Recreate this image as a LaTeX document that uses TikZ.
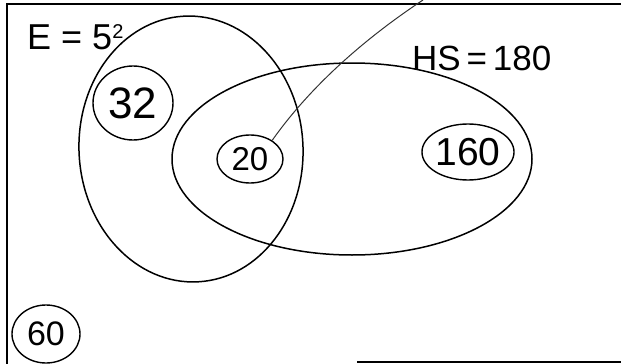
\documentclass[tikz,border=0pt]{standalone}
\usepackage{fontspec}
\setmainfont{Liberation Sans}
\usetikzlibrary{shapes.geometric}
\begin{document}
\begin{tikzpicture}[x=1pt,y=-1pt,
  setring/.style={draw, ellipse, line width=1.5pt, inner sep=0pt},
  countring/.style={draw, ellipse, line width=1.4pt, inner sep=0pt},
  frameline/.style={line width=1.3pt},
  pointer/.style={line width=1pt, draw=black!80},
  lbl/.style={inner sep=0pt}]
\useasboundingbox (0,0) rectangle (621,364);
% frame
\draw[frameline] (7,364) -- (7,4) -- (621,4);
\draw[frameline] (357,362) -- (621,362);
% sets
\node[setring, minimum width=224pt, minimum height=266pt, rotate=3] (E) at (191,149) {};
\node[setring, minimum width=360pt, minimum height=192pt] (HS) at (352,159) {};
% set labels
\node[lbl, anchor=base west] (tE) at (27,49) {\fontsize{36}{36}\selectfont E = 5\raisebox{0.3em}{\fontsize{20}{20}\selectfont 2}};
\node[lbl, anchor=base west] (tHS) at (412,70) {\fontsize{35}{35}\selectfont HS\,=\,180};
% counts
\node[countring, minimum width=80pt, minimum height=74pt] (c32) at (133,103) {\fontsize{44}{44}\selectfont 32};
\node[countring, minimum width=66pt, minimum height=48pt] (c20) at (250,159) {\fontsize{33}{33}\selectfont 20};
\node[countring, minimum width=86pt, minimum height=56pt] (c160) at (468,152) {\fontsize{39}{39}\selectfont 160};
\node[countring, minimum width=68pt, minimum height=58pt] (c60) at (46,334) {\fontsize{34}{34}\selectfont 60};
% pointer line
\coordinate (top) at (423,0);
\draw[pointer] (c20.40) .. controls (295,108) and (340,55) .. (top);
\end{tikzpicture}
\end{document}
